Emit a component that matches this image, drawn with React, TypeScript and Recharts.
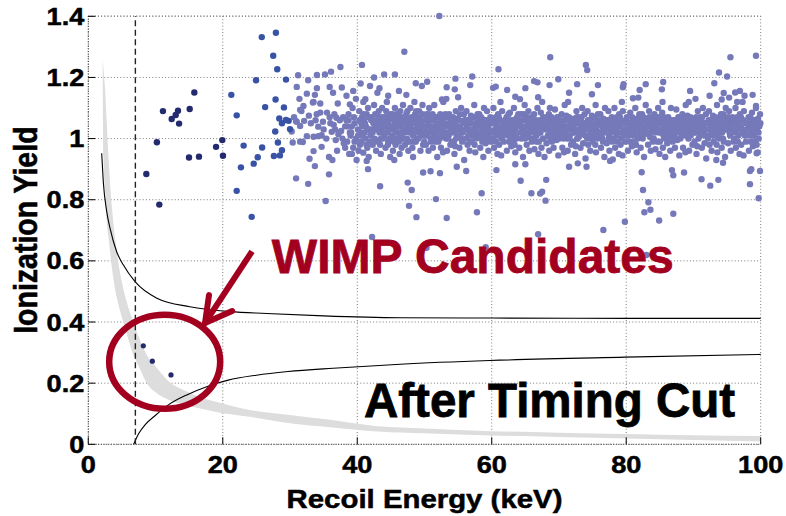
import React from 'react';
import {
  ComposedChart, Scatter, Line, Area, XAxis, YAxis, CartesianGrid, ReferenceLine, ReferenceDot,
} from 'recharts';

const FONT = '"Liberation Sans", Arial, Helvetica, sans-serif';
const RED = '#a3001f';
const NAVY = '#232a6e';
const BLUE = '#3853a5';
const LAV = '#7579b9';

const xTicks = [0, 20, 40, 60, 80, 100];
const yTicks = [0, 0.2, 0.4, 0.6, 0.8, 1, 1.2, 1.4];

// grey band (low / high edge)
const bandX = [2.14, 2.25, 2.5, 2.75, 3, 3.5, 4, 4.5, 5.2, 6, 6.7, 7.5, 8.7, 10, 12, 13.6, 16, 19, 24, 30, 36, 43, 50, 60, 70, 80, 90, 100];
const bandLow = [1.245, 0.94, 0.83, 0.725, 0.68, 0.58, 0.505, 0.455, 0.4, 0.34, 0.292, 0.255, 0.2, 0.17, 0.145, 0.133, 0.12, 0.106, 0.09, 0.069, 0.056, 0.042, 0.036, 0.029, 0.024, 0.019, 0.014, 0.009];
const bandHigh = [1.26, 1.23, 1.16, 1.05, 0.94, 0.78, 0.67, 0.59, 0.51, 0.445, 0.4, 0.35, 0.292, 0.255, 0.205, 0.183, 0.16, 0.139, 0.112, 0.096, 0.08, 0.059, 0.052, 0.043, 0.038, 0.034, 0.03, 0.027];

// black curves
const upperX = [1.99, 2.23, 2.74, 3.23, 4.22, 5.2, 6.95, 10.2, 15.1, 21.1, 26.5, 35, 46.4, 60, 80, 100];
const upperY = [0.952, 0.859, 0.761, 0.707, 0.63, 0.587, 0.532, 0.478, 0.45, 0.434, 0.428, 0.42, 0.414, 0.413, 0.412, 0.412];
const lowerX = [6.75, 7.5, 8.5, 10, 11.85, 14.8, 17.8, 20.8, 25, 29.7, 36.4, 46.4, 59.7, 79.8, 100];
const lowerY = [0, 0.035, 0.065, 0.095, 0.128, 0.163, 0.19, 0.21, 0.226, 0.238, 0.249, 0.262, 0.274, 0.285, 0.294];

// events
const navyPts = [
  [8.63, 0.884], [10.2, 0.988], [10.56, 0.784], [11.1, 1.09], [12.4, 1.064], [13.0, 1.077], [13.34, 1.091],
  [13.5, 1.049], [15.08, 1.097], [15.77, 1.151], [14.98, 0.938], [16.46, 0.941], [19.0, 0.973], [19.93, 0.995],
  [20.03, 0.944],
];
const candidatePts = [[8.18, 0.322], [9.52, 0.272], [12.3, 0.227]];
const bluePts = [
  [21.27, 1.143], [22.07, 1.076], [23.1, 0.977], [22.7, 0.906], [22.07, 0.829], [24.3, 0.744], [24.6, 0.918],
  [25.2, 0.939], [24.95, 1.191], [25.8, 1.332], [27.9, 1.346], [27.5, 1.271], [28.1, 1.227], [29.4, 1.193],
  [26.3, 1.103], [27.85, 1.128], [29.1, 1.102], [28.4, 1.066], [28.8, 1.05], [29.4, 1.061], [29.8, 1.058],
  [27.8, 1.023], [30.0, 1.031], [28.2, 0.987], [25.85, 0.971], [28.8, 0.962], [27.6, 0.943], [28.5, 0.945],
];
const sparsePts = [
  [31.2, 1.207], [32.7, 1.191], [34.0, 1.208], [35.2, 1.21], [36.1, 1.219], [37.5, 1.234], [40.7, 1.241],
  [31.0, 1.169], [32.5, 1.147], [34.0, 1.165], [35.9, 1.169], [37.7, 1.167], [33.5, 1.12], [34.5, 1.115],
  [37.1, 1.115], [32.0, 1.107], [31.7, 1.09], [30.9, 1.057], [32.1, 1.058], [33.1, 1.05], [34.5, 1.085],
  [35.5, 1.085], [35.9, 1.07], [36.9, 1.068], [37.9, 1.07], [30.4, 0.987], [31.9, 0.989], [33.5, 1.006],
  [34.7, 1.011], [36.2, 1.022], [37.2, 1.014], [34.7, 0.973], [33.5, 0.959], [32.9, 0.934], [35.8, 0.94],
  [33.7, 0.91], [35.8, 0.883], [30.9, 0.87], [32.7, 0.852], [35.3, 0.796], [33.7, 1.143], [33.4, 1.118],
  [31.5, 1.094], [33.97, 1.08], [31.0, 1.055], [34.2, 1.039], [31.5, 1.041], [30.25, 1.023], [32.5, 1.008],
  [34.2, 1.008], [31.5, 0.99], [37.6, 1.025], [38.5, 1.04], [38.9, 1.112], [39.4, 1.156], [41.9, 1.172],
  [43.3, 1.165], [41.2, 1.129], [41.4, 0.927], [41.6, 0.9], [40.9, 0.954], [36.5, 1.045], [35.0, 1.03],
  [36.8, 0.995], [38.0, 0.985], [30.6, 1.07], [32.8, 1.075], [33.8, 1.06], [34.9, 1.055], [36.0, 1.05],
  [36.6, 1.08], [37.4, 1.06], [35.4, 1.0], [36.7, 1.03], [37.8, 1.0], [38.2, 0.97], [39.0, 1.01], [39.6, 0.99],
  [38.7, 1.06], [37.0, 0.96], [36.3, 0.93], [39.2, 0.95], [31.4, 1.13], [36.4, 1.15], [38.4, 1.14],
  [39.8, 1.13], [40.5, 1.18], [42.5, 1.2], [44.0, 1.21], [45.6, 1.21], [43.0, 1.15], [44.6, 1.14],
];
const outlierPts = [
  [47.0, 1.284], [52.2, 1.401], [68.7, 1.266], [61.0, 1.227], [74.0, 1.241], [74.2, 1.224], [95.5, 1.266],
  [99.3, 1.271], [93.8, 1.216], [95.0, 1.203], [93.1, 1.181], [54.6, 1.196], [57.1, 1.203], [56.8, 1.175],
  [50.4, 1.186], [48.7, 1.181], [49.6, 1.172], [53.3, 1.168], [54.5, 1.161], [60.2, 1.166], [60.6, 1.17],
  [66.3, 1.188], [66.8, 1.184], [69.9, 1.194], [65.0, 1.165], [68.6, 1.175], [72.7, 1.178], [75.8, 1.175],
  [79.5, 1.168], [79.6, 1.178], [82.0, 1.159], [82.9, 1.178], [85.5, 1.185], [85.3, 1.161], [89.5, 1.156],
  [90.3, 1.13], [92.4, 1.14], [94.5, 1.149], [95.3, 1.134], [96.2, 1.151], [96.9, 1.156], [97.6, 1.14],
  [98.8, 1.143], [96.5, 1.12], [94.2, 1.128], [99.3, 1.107], [81.0, 1.132], [81.8, 1.134], [66.9, 1.135],
  [46.2, 1.156], [47.3, 1.143], [52.6, 1.128], [55.0, 1.135], [62.3, 1.159], [63.5, 1.137], [64.2, 1.129],
  [71.5, 1.15], [74.9, 1.145],
  [47.5, 0.856], [48.1, 0.832], [47.7, 0.78], [48.8, 0.743], [51.7, 0.802], [53.3, 0.74], [57.8, 0.759],
  [58.5, 0.821], [56.2, 0.894], [54.8, 0.908], [52.3, 0.887], [50.9, 0.893], [49.8, 0.889], [60.7, 0.897],
  [64.3, 0.862], [65.9, 0.821], [67.5, 0.826], [67.2, 0.82], [68.0, 0.797], [68.1, 0.865], [66.9, 0.687],
  [63.5, 0.916], [65.0, 0.916], [71.5, 0.908], [72.8, 0.919], [74.1, 0.908], [76.6, 0.701], [79.8, 0.728],
  [82.3, 0.89], [82.5, 0.832], [83.3, 0.792], [83.6, 0.767], [82.7, 0.759], [84.9, 0.732], [87.0, 0.754],
  [86.8, 0.897], [87.0, 0.88], [88.6, 0.889], [91.2, 0.867], [92.5, 0.846], [93.7, 0.865], [98.4, 0.851],
  [98.4, 0.894], [98.6, 0.9], [99.9, 0.894], [99.7, 0.805], [83.0, 0.619], [99.4, 0.952], [43.4, 0.844],
  [42.2, 0.678], [59.1, 0.645], [50.3, 0.643], [94.4, 0.921], [93.4, 0.93], [77.6, 0.927], [78.0, 0.932],
];

const band38 = [
  [38.2, 1.04], [38.5, 0.99], [38.7, 1.08], [38.9, 1.02], [38.4, 1.06], [38.8, 0.95],
  [39.1, 1.02], [39.3, 1.1], [39.4, 0.97], [39.6, 1.05], [39.8, 1.0], [39.5, 1.07], [39.9, 0.93], [39.2, 1.04],
  [40.1, 1.03], [40.3, 1.09], [40.4, 0.98], [40.6, 1.05], [40.8, 1.01], [40.9, 1.12], [40.2, 0.96], [40.7, 1.07], [40.5, 1.02],
  [41.0, 1.06], [41.2, 1.0], [41.3, 1.04], [41.5, 0.97], [41.6, 1.1], [41.8, 1.03], [41.9, 0.99], [41.4, 1.08], [41.7, 0.94], [41.1, 1.02],
  [42.1, 1.02], [42.2, 1.07], [42.3, 0.98], [42.4, 1.05], [42.5, 1.11], [42.6, 1.0], [42.7, 1.04], [42.8, 0.96], [42.9, 1.08], [42.0, 1.03], [42.5, 1.06],
  [43.0, 1.05], [43.1, 0.99], [43.2, 1.09], [43.3, 1.02], [43.4, 1.06], [43.5, 0.95], [43.6, 1.03], [43.7, 1.1], [43.8, 1.0], [43.9, 1.04], [43.4, 0.98], [43.7, 1.07],
  [44.0, 1.01], [44.1, 1.07], [44.2, 0.97], [44.3, 1.04], [44.4, 1.12], [44.5, 1.02], [44.6, 0.99], [44.7, 1.06], [44.8, 1.03], [44.9, 0.94], [44.3, 1.09], [44.6, 1.05], [44.8, 1.0],
  [45.0, 1.04], [45.1, 1.0], [45.2, 1.08], [45.3, 0.96], [45.4, 1.03], [45.5, 1.06], [45.6, 1.1], [45.7, 0.98], [45.8, 1.02], [45.9, 1.05], [45.2, 1.01], [45.5, 0.93], [45.7, 1.07],
  [46.0, 1.02], [46.1, 1.06], [46.2, 0.99], [46.3, 1.04], [46.4, 1.09], [46.5, 1.01], [46.6, 0.97], [46.7, 1.05], [46.8, 1.11], [46.9, 1.03], [46.3, 0.95], [46.6, 1.07], [46.9, 1.0],
  [47.0, 1.05], [47.1, 0.98], [47.2, 1.03], [47.3, 1.08], [47.4, 1.0], [47.5, 1.04], [47.6, 0.96], [47.7, 1.06], [47.8, 1.02], [47.9, 1.1], [47.2, 1.07], [47.5, 0.99], [47.8, 1.04],
  [48.0, 1.03], [48.1, 1.07], [48.2, 0.97], [48.3, 1.01], [48.4, 1.05], [48.5, 1.12], [48.6, 1.02], [48.7, 0.99], [48.8, 1.06], [48.9, 1.03], [48.3, 0.94], [48.6, 1.08], [48.9, 1.0],
  [49.0, 1.04], [49.1, 1.0], [49.2, 1.09], [49.3, 1.02], [49.4, 0.96], [49.5, 1.05], [49.6, 1.03], [49.7, 1.08], [49.8, 0.98], [49.9, 1.01], [49.4, 1.06], [49.7, 1.11],
];
const band50 = [
  [50.05, 1.03], [50.2, 0.98], [50.3, 1.08], [50.35, 1.01], [50.5, 1.05], [50.6, 0.96], [50.7, 1.1], [50.75, 1.02], [50.85, 1.04], [50.95, 0.99], [50.45, 1.065],
  [51.0, 1.06], [51.1, 1.0], [51.25, 0.97], [51.3, 1.04], [51.45, 1.11], [51.5, 1.02], [51.6, 0.99], [51.75, 1.07], [51.8, 1.03], [51.9, 0.94], [51.4, 1.005],
  [52.05, 0.99], [52.15, 1.045], [52.2, 1.02], [52.35, 1.08], [52.45, 0.97], [52.55, 1.03], [52.6, 1.06], [52.75, 0.955], [52.8, 1.12], [52.95, 1.01], [52.65, 1.035],
  [53.0, 1.02], [53.1, 1.08], [53.2, 1.0], [53.35, 0.96], [53.4, 1.04], [53.55, 1.07], [53.6, 1.01], [53.7, 1.05], [53.85, 0.98], [53.9, 1.06], [53.25, 1.13],
  [54.05, 1.04], [54.1, 0.99], [54.25, 1.07], [54.3, 1.02], [54.45, 0.95], [54.5, 1.05], [54.65, 1.09], [54.7, 1.0], [54.8, 1.03], [54.95, 1.065], [54.55, 0.975],
  [55.0, 1.01], [55.15, 1.06], [55.2, 0.97], [55.3, 1.035], [55.45, 1.1], [55.55, 1.02], [55.6, 0.99], [55.75, 1.05], [55.85, 1.08], [55.9, 0.93], [55.4, 1.03],
  [56.05, 1.05], [56.2, 1.0], [56.25, 1.09], [56.4, 0.98], [56.45, 1.03], [56.6, 1.06], [56.7, 0.96], [56.8, 1.02], [56.9, 1.075], [56.95, 1.01], [56.35, 1.04],
  [57.0, 0.99], [57.1, 1.03], [57.2, 1.07], [57.35, 1.01], [57.4, 1.11], [57.55, 0.955], [57.6, 1.045], [57.7, 1.0], [57.85, 1.06], [57.95, 1.02], [57.45, 0.98],
  [58.05, 1.02], [58.15, 1.08], [58.3, 0.97], [58.35, 1.04], [58.5, 1.0], [58.55, 1.065], [58.7, 1.03], [58.75, 0.94], [58.85, 1.1], [58.95, 1.05], [58.6, 0.99],
  [59.0, 1.06], [59.1, 0.985], [59.25, 1.03], [59.3, 1.09], [59.45, 1.01], [59.5, 0.96], [59.65, 1.05], [59.7, 1.02], [59.8, 1.07], [59.9, 0.99], [59.4, 1.04],
];
const band60 = [
  [60.05, 1.0], [60.15, 1.05], [60.25, 1.1], [60.35, 0.97], [60.5, 1.03], [60.6, 1.07], [60.65, 0.99], [60.8, 1.04], [60.85, 0.95], [60.95, 1.08], [60.45, 1.02],
  [61.0, 1.04], [61.1, 0.98], [61.2, 1.06], [61.35, 1.02], [61.4, 0.945], [61.55, 1.09], [61.6, 1.01], [61.75, 1.05], [61.8, 0.99], [61.9, 1.03], [61.3, 1.12],
  [62.05, 1.03], [62.2, 1.07], [62.25, 0.96], [62.4, 1.01], [62.45, 1.05], [62.6, 0.99], [62.7, 1.085], [62.8, 1.02], [62.9, 0.975], [62.95, 1.06], [62.55, 1.035],
  [63.0, 1.01], [63.15, 1.045], [63.2, 0.99], [63.3, 1.1], [63.45, 1.03], [63.5, 0.955], [63.65, 1.065], [63.7, 1.0], [63.85, 1.04], [63.95, 1.08], [63.4, 0.98],
  [64.05, 1.05], [64.1, 0.97], [64.25, 1.02], [64.35, 1.08], [64.4, 1.0], [64.55, 1.04], [64.65, 0.94], [64.7, 1.06], [64.8, 1.015], [64.9, 1.11], [64.6, 1.03],
  [65.0, 1.02], [65.1, 1.065], [65.2, 0.98], [65.35, 1.04], [65.45, 1.09], [65.5, 1.005], [65.6, 0.96], [65.75, 1.05], [65.85, 1.025], [65.95, 0.99], [65.3, 1.07],
  [66.05, 1.04], [66.15, 1.0], [66.3, 1.08], [66.35, 0.965], [66.5, 1.03], [66.6, 1.06], [66.7, 0.99], [66.8, 1.1], [66.9, 1.02], [66.95, 0.95], [66.45, 1.045],
  [67.0, 0.99], [67.1, 1.05], [67.25, 1.02], [67.3, 1.085], [67.4, 0.97], [67.55, 1.035], [67.65, 1.07], [67.7, 1.0], [67.85, 0.94], [67.9, 1.04], [67.5, 1.12],
  [68.05, 1.03], [68.15, 0.985], [68.2, 1.07], [68.35, 1.01], [68.45, 1.05], [68.55, 0.96], [68.65, 1.1], [68.75, 1.02], [68.85, 1.045], [68.95, 0.99], [68.4, 1.06],
  [69.0, 1.06], [69.1, 1.01], [69.2, 0.97], [69.35, 1.04], [69.4, 1.095], [69.5, 1.02], [69.65, 0.995], [69.75, 1.07], [69.8, 1.03], [69.9, 0.945], [69.3, 1.0],
];
const band70 = [
  [70.05, 1.0], [70.2, 1.045], [70.25, 1.02], [70.4, 1.08], [70.5, 0.97], [70.55, 1.035], [70.7, 1.06], [70.75, 0.955], [70.85, 1.11], [70.95, 1.01], [70.6, 1.03],
  [71.0, 1.02], [71.1, 1.075], [71.2, 1.0], [71.3, 0.96], [71.45, 1.04], [71.5, 1.07], [71.6, 1.01], [71.75, 1.05], [71.8, 0.98], [71.95, 1.06], [71.35, 1.12],
  [72.05, 1.04], [72.1, 0.99], [72.25, 1.065], [72.35, 1.02], [72.4, 0.95], [72.55, 1.05], [72.6, 1.09], [72.7, 1.0], [72.85, 1.03], [72.9, 1.07], [72.5, 0.975],
  [73.0, 1.01], [73.15, 1.06], [73.2, 0.97], [73.3, 1.03], [73.45, 1.1], [73.55, 1.02], [73.6, 0.985], [73.75, 1.05], [73.8, 1.08], [73.95, 0.935], [73.4, 1.04],
  [74.05, 1.05], [74.2, 1.0], [74.25, 1.09], [74.35, 0.98], [74.5, 1.03], [74.6, 1.06], [74.65, 0.96], [74.8, 1.02], [74.9, 1.075], [74.95, 1.01], [74.4, 1.04],
  [75.0, 0.99], [75.1, 1.035], [75.2, 1.07], [75.3, 1.01], [75.45, 1.11], [75.5, 0.955], [75.6, 1.045], [75.75, 1.0], [75.85, 1.06], [75.9, 1.02], [75.4, 0.98],
  [76.05, 1.02], [76.15, 1.08], [76.25, 0.97], [76.4, 1.04], [76.45, 1.0], [76.6, 1.065], [76.65, 1.03], [76.75, 0.94], [76.85, 1.1], [76.95, 1.05], [76.55, 0.99],
  [77.0, 1.06], [77.1, 0.985], [77.2, 1.03], [77.35, 1.09], [77.45, 1.01], [77.5, 0.96], [77.6, 1.05], [77.7, 1.02], [77.85, 1.07], [77.9, 0.99], [77.3, 1.04],
  [78.05, 1.0], [78.2, 1.05], [78.25, 1.1], [78.35, 0.97], [78.45, 1.03], [78.6, 1.07], [78.7, 0.99], [78.75, 1.04], [78.9, 0.95], [78.95, 1.08], [78.5, 1.02],
  [79.0, 1.04], [79.15, 0.98], [79.2, 1.06], [79.3, 1.02], [79.45, 0.945], [79.5, 1.09], [79.65, 1.01], [79.7, 1.05], [79.85, 0.99], [79.9, 1.03], [79.35, 1.12],
];
const band80 = [
  [80.05, 1.03], [80.1, 1.07], [80.25, 0.96], [80.3, 1.01], [80.45, 1.05], [80.55, 0.99], [80.6, 1.085], [80.75, 1.02], [80.85, 0.975], [80.95, 1.06], [80.5, 1.035],
  [81.0, 1.01], [81.1, 1.045], [81.25, 0.99], [81.35, 1.1], [81.4, 1.03], [81.55, 0.955], [81.6, 1.065], [81.7, 1.0], [81.8, 1.04], [81.95, 1.08], [81.45, 0.98],
  [82.05, 1.05], [82.15, 0.97], [82.2, 1.02], [82.35, 1.08], [82.45, 1.0], [82.5, 1.04], [82.65, 0.94], [82.75, 1.06], [82.8, 1.015], [82.9, 1.11], [82.6, 1.03],
  [83.0, 1.02], [83.15, 1.065], [83.25, 0.98], [83.3, 1.04], [83.4, 1.09], [83.55, 1.005], [83.65, 0.96], [83.7, 1.05], [83.8, 1.025], [83.95, 0.99], [83.45, 1.07],
  [84.05, 1.04], [84.1, 1.0], [84.2, 1.08], [84.35, 0.965], [84.45, 1.03], [84.55, 1.06], [84.65, 0.99], [84.75, 1.1], [84.85, 1.02], [84.95, 0.95], [84.5, 1.045],
  [85.0, 0.99], [85.15, 1.05], [85.2, 1.02], [85.35, 1.085], [85.45, 0.97], [85.5, 1.035], [85.6, 1.07], [85.75, 1.0], [85.8, 0.94], [85.95, 1.04], [85.4, 1.12],
  [86.05, 1.03], [86.1, 0.985], [86.25, 1.07], [86.3, 1.01], [86.4, 1.05], [86.55, 0.96], [86.65, 1.1], [86.7, 1.02], [86.85, 1.045], [86.9, 0.99], [86.45, 1.06],
  [87.0, 1.06], [87.15, 1.01], [87.25, 0.97], [87.3, 1.04], [87.45, 1.095], [87.5, 1.02], [87.6, 0.995], [87.75, 1.07], [87.85, 1.03], [87.9, 0.945], [87.35, 1.0],
  [88.05, 1.0], [88.15, 1.045], [88.3, 1.02], [88.35, 1.08], [88.45, 0.97], [88.6, 1.035], [88.7, 1.06], [88.8, 0.955], [88.85, 1.11], [88.95, 1.01], [88.55, 1.03],
  [89.0, 1.02], [89.1, 1.075], [89.25, 1.0], [89.35, 0.96], [89.4, 1.04], [89.55, 1.07], [89.6, 1.01], [89.7, 1.05], [89.85, 0.98], [89.9, 1.06], [89.3, 1.12],
];
const band90 = [
  [90.05, 1.04], [90.15, 0.99], [90.2, 1.065], [90.3, 1.02], [90.45, 0.95], [90.5, 1.05], [90.65, 1.09], [90.75, 1.0], [90.8, 1.03], [90.95, 1.07], [90.55, 0.975],
  [91.0, 1.01], [91.1, 1.06], [91.25, 0.97], [91.35, 1.03], [91.4, 1.1], [91.5, 1.02], [91.65, 0.985], [91.7, 1.05], [91.85, 1.08], [91.9, 0.935], [91.45, 1.04],
  [92.05, 1.05], [92.15, 1.0], [92.3, 1.09], [92.4, 0.98], [92.45, 1.03], [92.55, 1.06], [92.7, 0.96], [92.75, 1.02], [92.9, 1.075], [92.95, 1.01], [92.6, 1.04],
  [93.0, 0.99], [93.2, 1.035], [93.25, 1.07], [93.35, 1.01], [93.5, 1.11], [93.55, 0.955], [93.65, 1.045], [93.8, 1.0], [93.85, 1.06], [93.95, 1.02], [93.45, 0.98],
  [94.05, 1.02], [94.1, 1.08], [94.2, 0.97], [94.35, 1.04], [94.4, 1.0], [94.55, 1.065], [94.65, 1.03], [94.7, 0.94], [94.8, 1.1], [94.95, 1.05], [94.5, 0.99],
  [95.0, 1.06], [95.15, 0.985], [95.25, 1.03], [95.3, 1.09], [95.45, 1.01], [95.55, 0.96], [95.6, 1.05], [95.75, 1.02], [95.8, 1.07], [95.95, 0.99], [95.4, 1.04],
  [96.05, 1.0], [96.1, 1.05], [96.25, 1.1], [96.3, 0.97], [96.45, 1.03], [96.5, 1.07], [96.6, 0.99], [96.75, 1.04], [96.85, 0.95], [96.9, 1.08], [96.4, 1.02],
  [97.0, 1.04], [97.1, 0.98], [97.2, 1.06], [97.35, 1.02], [97.45, 0.945], [97.5, 1.09], [97.65, 1.01], [97.75, 1.05], [97.8, 0.99], [97.95, 1.03], [97.3, 1.12],
  [98.05, 1.03], [98.2, 1.07], [98.25, 0.96], [98.35, 1.01], [98.5, 1.05], [98.55, 0.99], [98.7, 1.085], [98.75, 1.02], [98.85, 0.975], [98.95, 1.06], [98.4, 1.035],
  [99.0, 1.01], [99.15, 1.045], [99.2, 0.99], [99.3, 1.1], [99.45, 1.03], [99.55, 0.955], [99.6, 1.065], [99.7, 1.0], [99.8, 1.04], [99.9, 1.08], [99.4, 0.98],
];
// extra events in the dense core of the band
const core40 = [
  [40.12, 1.01], [40.33, 1.06], [40.55, 0.99], [40.76, 1.04], [40.94, 1.08], [41.14, 1.05], [41.36, 0.98], [41.52, 1.03], [41.73, 1.07], [41.95, 1.01],
  [42.08, 1.06], [42.28, 1.02], [42.47, 0.99], [42.66, 1.08], [42.87, 1.03], [43.12, 1.04], [43.27, 1.07], [43.52, 1.0], [43.66, 1.05], [43.91, 1.02],
  [44.06, 1.05], [44.24, 1.02], [44.45, 1.07], [44.56, 0.98], [44.76, 1.04], [44.95, 1.08], [45.07, 1.07], [45.27, 1.04], [45.43, 0.99], [45.62, 1.05],
  [45.84, 1.08], [45.96, 1.0], [46.05, 1.04], [46.26, 1.07], [46.44, 1.02], [46.58, 1.05], [46.74, 1.0], [46.92, 1.06], [47.06, 1.02], [47.24, 1.05],
  [47.45, 1.09], [47.62, 1.03], [47.84, 0.99], [47.96, 1.06], [48.07, 1.05], [48.26, 1.03], [48.42, 0.99], [48.63, 1.05], [48.76, 1.09], [48.94, 1.06],
  [49.07, 1.07], [49.26, 1.04], [49.46, 1.01], [49.62, 1.06], [49.82, 1.04], [49.96, 0.99],
];
const core50 = [
  [50.12, 1.06], [50.28, 1.02], [50.55, 1.04], [50.66, 1.08], [50.92, 1.0], [51.07, 1.03], [51.2, 1.08], [51.38, 1.06], [51.66, 1.01], [51.86, 1.05],
  [52.1, 1.07], [52.28, 1.0], [52.5, 1.05], [52.7, 1.01], [52.9, 1.07], [53.05, 1.05], [53.3, 1.02], [53.47, 1.0], [53.66, 1.08], [53.95, 1.03],
  [54.17, 1.05], [54.36, 0.99], [54.6, 1.03], [54.76, 1.06], [54.88, 1.01], [55.08, 1.04], [55.25, 1.08], [55.5, 1.0], [55.68, 1.02], [55.96, 1.06],
  [56.12, 1.03], [56.3, 1.06], [56.52, 1.01], [56.76, 1.05], [56.85, 0.99], [57.06, 1.05], [57.27, 1.02], [57.5, 1.07], [57.66, 1.03], [57.9, 1.08],
  [58.1, 1.01], [58.24, 1.05], [58.42, 1.07], [58.66, 1.01], [58.9, 1.03], [59.06, 1.02], [59.2, 1.06], [59.36, 1.0], [59.58, 1.03], [59.96, 1.05],
];
const core60 = [
  [60.1, 1.02], [60.3, 1.06], [60.56, 1.05], [60.72, 1.01], [60.9, 1.03], [61.05, 1.07], [61.26, 1.04], [61.46, 1.0], [61.68, 1.03], [61.95, 1.06],
  [62.12, 1.04], [62.32, 1.02], [62.5, 1.08], [62.66, 1.05], [62.86, 1.0], [63.07, 1.06], [63.26, 1.02], [63.38, 1.05], [63.58, 1.01], [63.78, 1.07],
  [64.16, 1.06], [64.3, 1.04], [64.48, 1.02], [64.75, 1.08], [64.96, 1.0], [65.06, 1.04], [65.26, 1.01], [65.4, 1.05], [65.66, 1.03], [65.9, 1.07],
  [66.1, 1.06], [66.24, 1.02], [66.4, 1.05], [66.66, 1.01], [66.86, 1.04], [67.06, 1.02], [67.2, 1.06], [67.36, 1.04], [67.6, 1.0], [67.78, 1.05],
  [68.1, 1.05], [68.28, 1.03], [68.5, 1.08], [68.7, 1.0], [68.9, 1.07], [69.06, 1.03], [69.26, 1.06], [69.45, 1.05], [69.58, 1.01], [69.86, 1.07],
];
const core70 = [
  [70.12, 1.06], [70.32, 1.01], [70.45, 1.05], [70.66, 1.0], [70.9, 1.04], [71.06, 1.04], [71.25, 1.03], [71.4, 1.06], [71.56, 1.0], [71.86, 1.03],
  [72.15, 1.02], [72.3, 1.05], [72.46, 1.03], [72.66, 1.07], [72.78, 1.0], [73.06, 1.05], [73.25, 1.02], [73.36, 1.07], [73.66, 1.04], [73.88, 1.01],
  [74.1, 1.03], [74.3, 1.06], [74.45, 1.01], [74.7, 1.05], [74.86, 1.0], [75.06, 1.07], [75.26, 1.02], [75.36, 1.05], [75.56, 1.03], [75.8, 1.08],
  [76.1, 1.05], [76.3, 1.01], [76.5, 1.06], [76.7, 1.02], [76.9, 1.04], [77.05, 1.03], [77.25, 1.06], [77.4, 1.0], [77.66, 1.04], [77.96, 1.06],
  [78.1, 1.03], [78.3, 1.06], [78.56, 1.01], [78.66, 1.05], [78.85, 1.02], [79.06, 1.07], [79.26, 1.0], [79.4, 1.05], [79.6, 1.03], [79.96, 1.06],
];
const core80 = [
  [80.15, 1.01], [80.36, 1.05], [80.4, 1.02], [80.66, 1.04], [80.9, 1.07], [81.05, 1.06], [81.2, 1.02], [81.5, 1.05], [81.66, 1.03], [81.86, 1.01],
  [82.1, 1.03], [82.26, 1.06], [82.4, 1.02], [82.56, 1.07], [82.96, 1.04], [83.06, 1.05], [83.2, 1.02], [83.36, 1.06], [83.6, 1.04], [83.86, 1.07],
  [84.15, 1.05], [84.26, 1.02], [84.4, 1.06], [84.6, 1.03], [84.8, 1.07], [85.06, 1.03], [85.26, 1.06], [85.55, 1.01], [85.66, 1.05], [85.88, 1.02],
  [86.15, 1.06], [86.36, 1.03], [86.5, 1.0], [86.76, 1.05], [86.96, 1.04], [87.06, 1.03], [87.2, 1.06], [87.4, 1.02], [87.66, 1.05], [87.96, 1.07],
  [88.1, 1.06], [88.25, 1.01], [88.5, 1.05], [88.66, 1.02], [88.9, 1.07], [89.06, 1.05], [89.2, 1.03], [89.45, 1.06], [89.66, 1.03], [89.96, 1.02],
];
const core90 = [
  [90.1, 1.06], [90.26, 1.03], [90.4, 1.07], [90.6, 1.02], [90.86, 1.05], [91.06, 1.04], [91.2, 1.02], [91.3, 1.07], [91.56, 1.05], [91.76, 1.01],
  [92.1, 1.03], [92.25, 1.06], [92.36, 1.01], [92.66, 1.05], [92.86, 1.02], [93.1, 1.05], [93.3, 1.02], [93.4, 1.06], [93.7, 1.03], [93.9, 1.07],
  [94.15, 1.05], [94.26, 1.02], [94.46, 1.08], [94.6, 1.03], [94.86, 1.06], [95.06, 1.04], [95.2, 1.07], [95.36, 1.02], [95.66, 1.04], [95.86, 1.06],
  [96.16, 1.03], [96.36, 1.06], [96.56, 1.05], [96.7, 1.01], [96.96, 1.04], [97.06, 1.07], [97.26, 1.03], [97.4, 1.06], [97.56, 1.02], [97.86, 1.05],
  [98.1, 1.05], [98.3, 1.03], [98.46, 1.07], [98.66, 1.04], [98.9, 1.01], [99.06, 1.06], [99.26, 1.03], [99.36, 1.06], [99.66, 1.02], [99.96, 1.05],
];

// annotations (data coordinates)
const circleCenter = { x: 11.36, y: 0.27 };
const arrowShaft = [{ x: 24.35, y: 0.631 }, { x: 17.36, y: 0.397 }];
const arrowBarbA = [{ x: 17.95, y: 0.488 }, { x: 17.36, y: 0.397 }];
const arrowBarbB = [{ x: 21.4, y: 0.436 }, { x: 17.36, y: 0.397 }];
const wimpLabel = { x: 27.3, y: 0.559, text: 'WIMP Candidates' };
const cutLabel = { x: 41.0, y: 0.09, text: 'After Timing Cut' };

const toXY = (pts: number[][]) => pts.map(([x, y]) => ({ x, y }));
const bandData = bandX.map((x, i) => ({ x, range: [bandLow[i], bandHigh[i]] }));
const upperData = upperX.map((x, i) => ({ x, y: upperY[i] }));
const lowerData = lowerX.map((x, i) => ({ x, y: lowerY[i] }));
const lavData = toXY([
  ...sparsePts, ...band38, ...band50, ...band60, ...band70, ...band80, ...band90,
  ...core40, ...core50, ...core60, ...core70, ...core80, ...core90, ...outlierPts,
]);

const dot = (fill: string, r: number) => (p: any) => <circle cx={p.cx} cy={p.cy} r={r} fill={fill} />;

const heavy = { fontWeight: 'bold' as const, fontFamily: FONT, stroke: '#000', strokeWidth: 0.5 };

const XTick = ({ x, y, payload }: any) => (
  <g transform={`translate(${x},${y + 36}) scale(1.13,1)`}>
    <text textAnchor="middle" fontSize={24} fill="#000" {...heavy}>{payload.value}</text>
  </g>
);
const YTick = ({ x, y, payload }: any) => (
  <g transform={`translate(${x - 11},${y + 8.6}) scale(1.13,1)`}>
    <text textAnchor="end" fontSize={24} fill="#000" {...heavy}>{payload.value}</text>
  </g>
);
const YTitle = (p: any) => {
  const vb = p.viewBox || { y: 16, height: 428 };
  return (
    <g transform={`translate(37,${vb.y + vb.height / 2}) scale(1.15,1) rotate(-90)`}>
      <text textAnchor="middle" fontSize={28.5} fill="#000" {...heavy}>Ionization Yield</text>
    </g>
  );
};
const XTitle = (p: any) => {
  const vb = p.viewBox || { x: 88, width: 672 };
  return (
    <g transform={`translate(${vb.x + vb.width / 2},508) scale(1.13,1)`}>
      <text textAnchor="middle" fontSize={26} fill="#000" {...heavy}>Recoil Energy (keV)</text>
    </g>
  );
};
const textShape = (label: string, size: number, fill: string) => (p: any) => (
  <text x={p.cx} y={p.cy} fontSize={size} fontWeight="bold" fontFamily={FONT} fill={fill} stroke={fill} strokeWidth={0.8}>{label}</text>
);

export default function App() {
  return (
    <div style={{ position: 'absolute', left: 0, top: 0, background: '#fff' }}>
      <ComposedChart width={786} height={516} margin={{ top: 16, right: 25.3, bottom: 0, left: 0 }}>
        <CartesianGrid stroke="#7a7a7a" strokeDasharray="1 2.2" />
        <XAxis dataKey="x" type="number" domain={[0, 100]} ticks={xTicks} height={71.7}
          tickSize={-7} tickMargin={0} tick={<XTick />} tickLine={{ stroke: '#000' }}
          axisLine={{ stroke: '#333', strokeDasharray: '1 1.5' }} label={<XTitle />} />
        <XAxis xAxisId="top" orientation="top" dataKey="x" type="number" domain={[0, 100]} ticks={xTicks}
          height={0} tickSize={-5} tick={false} tickLine={{ stroke: '#000' }} axisLine={{ stroke: '#222' }} />
        <YAxis dataKey="y" type="number" domain={[0, 1.4]} ticks={yTicks} width={88.3}
          tickSize={-7} tickMargin={0} tick={<YTick />} tickLine={{ stroke: '#000' }}
          axisLine={{ stroke: '#333', strokeDasharray: '1 1.5' }} label={<YTitle />} />
        <YAxis yAxisId="right" orientation="right" dataKey="y" type="number" domain={[0, 1.4]} ticks={yTicks}
          width={0} tickSize={-5} tick={false} tickLine={{ stroke: '#000' }} axisLine={{ stroke: '#222' }} />

        <Area data={bandData} dataKey="range" type="monotone" stroke="none" fill="#dcdddc" fillOpacity={1} isAnimationActive={false} />
        <Line data={upperData} dataKey="y" type="monotone" stroke="#000" strokeWidth={1.1} dot={false} isAnimationActive={false} />
        <Line data={lowerData} dataKey="y" type="monotone" stroke="#000" strokeWidth={1.1} dot={false} isAnimationActive={false} />
        <ReferenceLine x={7} stroke="#222" strokeWidth={1.4} strokeDasharray="6 3.5" />

        <Scatter data={lavData} shape={dot(LAV, 3.2)} isAnimationActive={false} />
        <Scatter data={toXY(bluePts)} shape={dot(BLUE, 3.2)} isAnimationActive={false} />
        <Scatter data={toXY(navyPts)} shape={dot(NAVY, 3.2)} isAnimationActive={false} />
        <Scatter data={toXY(candidatePts)} shape={dot(NAVY, 2.6)} isAnimationActive={false} />

        <ReferenceDot x={circleCenter.x} y={circleCenter.y}
          shape={(p: any) => <ellipse cx={p.cx} cy={p.cy} rx={55.5} ry={47} fill="none" stroke={RED} strokeWidth={6.5} />} />
        <ReferenceLine segment={arrowShaft} stroke={RED} strokeWidth={6} />
        <ReferenceLine segment={arrowBarbA} stroke={RED} strokeWidth={6} strokeLinecap="round" />
        <ReferenceLine segment={arrowBarbB} stroke={RED} strokeWidth={6} strokeLinecap="round" />
        <ReferenceDot x={wimpLabel.x} y={wimpLabel.y} shape={textShape(wimpLabel.text, 48, RED)} />
        <ReferenceDot x={cutLabel.x} y={cutLabel.y} shape={textShape(cutLabel.text, 47.5, '#000')} />
      </ComposedChart>
    </div>
  );
}
